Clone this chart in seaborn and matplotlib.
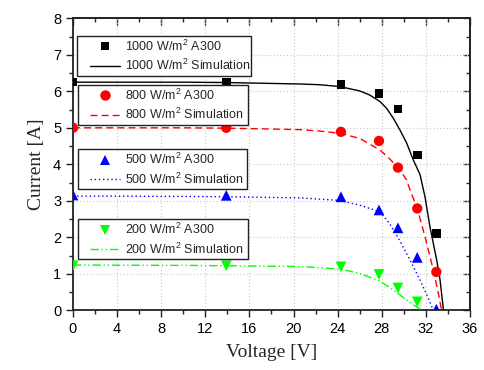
import matplotlib
matplotlib.use("Agg")
import matplotlib.pyplot as plt
from matplotlib.lines import Line2D
from matplotlib.legend import Legend
from matplotlib.patches import Rectangle
from matplotlib.ticker import MultipleLocator
import seaborn as sns
import pandas as pd

# Measured data (A300)
v_meas = [0.0, 13.9, 24.3, 27.75, 29.47, 31.22, 32.95]
i_1000 = [6.26, 6.26, 6.19, 5.94, 5.51, 4.25, 2.11]
i_800 = [5.00, 5.00, 4.89, 4.64, 3.91, 2.79, 1.05]
i_500 = [3.16, 3.15, 3.11, 2.75, 2.26, 1.45, 0.03]
v_meas_200 = [0.0, 13.9, 24.3, 27.75, 29.47, 31.22]
i_200 = [1.22, 1.22, 1.19, 0.98, 0.61, 0.23]

# Simulation curves
v_sim_1000 = [0.0, 10.0, 14.0, 20.6, 22.4, 24.2, 26.0, 26.9, 27.84, 28.45, 29.05, 29.65,
              30.26, 30.86, 31.47, 31.92, 32.37, 32.98, 33.28, 33.6]
i_sim_1000 = [6.25, 6.25, 6.24, 6.20, 6.18, 6.13, 6.01, 5.90, 5.72, 5.53, 5.26, 4.94,
              4.58, 4.12, 3.72, 3.11, 2.29, 1.38, 0.85, 0.0]
v_sim_800 = [0.0, 10.0, 14.0, 20.6, 22.4, 24.2, 26.0, 27.84, 28.75, 29.65, 30.26, 30.56,
             31.22, 31.92, 32.68, 33.13, 33.43]
i_sim_800 = [5.00, 5.00, 4.99, 4.95, 4.91, 4.85, 4.71, 4.39, 4.14, 3.84, 3.57, 3.30,
             2.79, 2.02, 1.10, 0.47, 0.0]
v_sim_500 = [0.0, 10.0, 14.0, 20.6, 24.2, 26.0, 27.84, 28.75, 29.65, 30.56, 31.47, 32.22, 32.68]
i_sim_500 = [3.13, 3.12, 3.11, 3.08, 3.01, 2.88, 2.70, 2.36, 1.90, 1.38, 0.83, 0.33, 0.0]
v_sim_200 = [0.0, 10.0, 14.0, 20.6, 24.2, 26.0, 27.84, 29.05, 30.26, 31.62]
i_sim_200 = [1.24, 1.23, 1.22, 1.20, 1.13, 1.01, 0.80, 0.56, 0.28, 0.0]

irr_labels = ["1000", "800", "500", "200"]
colors = ["black", "#FF0000", "#0000FF", "#00FF00"]
markers = ["s", "o", "^", "v"]
msizes = [38, 55, 60, 60]
dashes = ["-", (0, (5, 3)), (0, (1, 2)), (0, (6, 2, 1, 2, 1, 2))]

sns.set_theme(style="ticks")
plt.rcParams["font.family"] = ["Liberation Sans", "DejaVu Sans"]
plt.rcParams["mathtext.fontset"] = "custom"
plt.rcParams["mathtext.rm"] = "Liberation Sans"

fig = plt.figure(figsize=(4.85, 3.7), dpi=100)
ax = fig.add_axes([0.1505, 0.1614, 0.8185, 0.7891])

meas = [(v_meas, i_1000), (v_meas, i_800), (v_meas, i_500), (v_meas_200, i_200)]
sims = [(v_sim_1000, i_sim_1000), (v_sim_800, i_sim_800), (v_sim_500, i_sim_500), (v_sim_200, i_sim_200)]

for k in range(4):
    sv, si = sims[k]
    df_s = pd.DataFrame({"V": sv, "I": si})
    sns.lineplot(data=df_s, x="V", y="I", ax=ax, color=colors[k], sort=False,
                 linewidth=1.0, legend=False, zorder=3)
    ax.lines[-1].set_linestyle(dashes[k])
    mv, mi = meas[k]
    df_m = pd.DataFrame({"V": mv, "I": mi})
    sns.scatterplot(data=df_m, x="V", y="I", ax=ax, color=colors[k], marker=markers[k],
                    s=msizes[k], edgecolor="none", legend=False, zorder=4, clip_on=True)

ax.set_xlim(0, 36)
ax.set_ylim(0, 8)
ax.xaxis.set_major_locator(MultipleLocator(4))
ax.xaxis.set_minor_locator(MultipleLocator(2))
ax.yaxis.set_major_locator(MultipleLocator(1))
ax.yaxis.set_minor_locator(MultipleLocator(0.5))
ax.grid(True, which="major", color="#c8c8c8", linestyle=(0, (1, 2)), linewidth=0.8)
ax.set_axisbelow(True)
for s in ax.spines.values():
    s.set_linewidth(1.3)
    s.set_color("#222222")
ax.tick_params(which="both", direction="out", bottom=True, left=True, top=False, right=False,
               labelsize=10.5, width=1.0, colors="#222222", labelcolor="black")
ax.tick_params(which="major", length=5)
ax.tick_params(which="minor", length=3)
ax2 = ax.secondary_xaxis("top")
ax2.xaxis.set_major_locator(MultipleLocator(4))
ax2.xaxis.set_minor_locator(MultipleLocator(2))
ax2.tick_params(which="both", direction="in", labeltop=False, width=1.0)
ax2.tick_params(which="major", length=5)
ax2.tick_params(which="minor", length=3)
ay2 = ax.secondary_yaxis("right")
ay2.yaxis.set_major_locator(MultipleLocator(1))
ay2.yaxis.set_minor_locator(MultipleLocator(0.5))
ay2.tick_params(which="both", direction="in", labelright=False, width=1.0)
ay2.tick_params(which="major", length=5)
ay2.tick_params(which="minor", length=3)

ax.set_xlabel("Voltage [V]", family=["Liberation Serif"], fontsize=14, labelpad=6)
ax.set_ylabel("Current [A]", family=["Liberation Serif"], fontsize=14, labelpad=6)

# legend boxes (axes coords): left, bottom, right, top
boxes = [(0.009, 0.803, 0.448, 0.939),
         (0.012, 0.635, 0.440, 0.772),
         (0.012, 0.415, 0.438, 0.551),
         (0.012, 0.175, 0.440, 0.312)]
for k in range(4):
    l, b, r, t = boxes[k]
    ax.add_patch(Rectangle((l, b), r - l, t - b, transform=ax.transAxes, facecolor="white",
                           edgecolor="#222222", linewidth=1.0, zorder=5, clip_on=False))
    h1 = Line2D([], [], color=colors[k], marker=markers[k], linestyle="none",
                markersize=6 if k == 0 else 7.5, markeredgewidth=0)
    h2 = Line2D([], [], color=colors[k], linestyle=dashes[k], linewidth=1.0)
    leg = Legend(ax, [h1, h2],
                 [irr_labels[k] + r" W/m$^2$ A300", irr_labels[k] + r" W/m$^2$ Simulation"],
                 loc="center left", bbox_to_anchor=(0.042, (b + t) / 2),
                 bbox_transform=ax.transAxes, fontsize=9,
                 frameon=False, handlelength=2.4, handletextpad=0.45, borderpad=0,
                 labelspacing=0.35, borderaxespad=0)
    leg.set_zorder(6)
    ax.add_artist(leg)

fig.savefig("out.png", dpi=100)
